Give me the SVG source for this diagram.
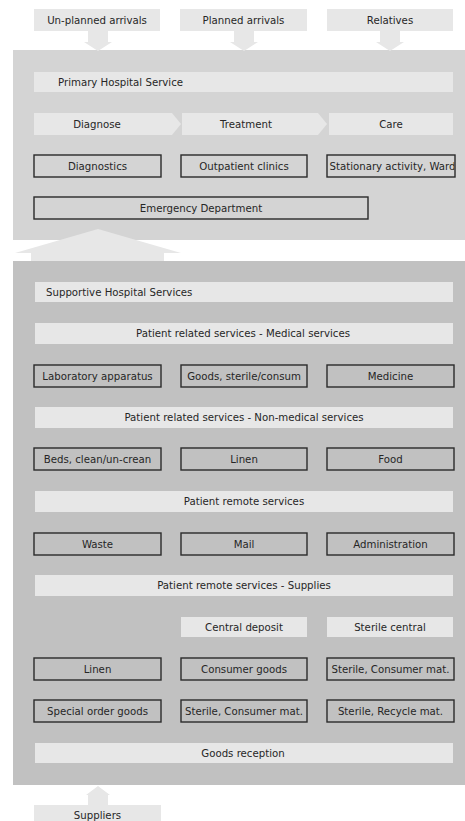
<svg xmlns="http://www.w3.org/2000/svg" width="465" height="821" viewBox="0 0 465 821">
<style>
text{font-family:"DejaVu Sans","Verdana",sans-serif;font-size:10.2px;fill:#262626;text-anchor:middle}
.l{text-anchor:start}
.bar{fill:#e7e7e7}
.arr{fill:#e7e7e7}
.c1{fill:#d4d4d4}
.c2{fill:#c1c1c1}
.b1{fill:#d4d4d4;stroke:#2a2a2a;stroke-width:1.4}
.b2{fill:#c1c1c1;stroke:#2a2a2a;stroke-width:1.4}
</style>
<defs>
<clipPath id="clipWard"><rect x="327.7" y="155" width="126.6" height="22"/></clipPath>
</defs>
<rect width="465" height="821" fill="#ffffff"/>

<!-- containers -->
<g id="primary-container"><rect class="c1" x="13" y="50" width="452" height="190"/></g>
<g id="supportive-container"><rect class="c2" x="13" y="261" width="452" height="524"/></g>

<!-- connectors -->
<g id="connectors">
<polygon class="arr" points="88,31 108,31 108,42 112,42 98,51 84,42 88,42"/>
<polygon class="arr" points="234,31 254,31 254,42 258,42 244,51 230,42 234,42"/>
<polygon class="arr" points="380,31 400,31 400,42 404,42 390,51 376,42 380,42"/>
<polygon class="arr" points="31,261 31,253 15,253 98,229 181,253 164,253 164,261"/>
<polygon class="arr" points="88,805 88,795 86,795 98,786 110,795 108,795 108,805"/>
</g>

<!-- top inputs -->
<g id="unplanned"><rect class="bar" x="34" y="9" width="126" height="22"/><text x="97" y="23.5">Un-planned arrivals</text></g>
<g id="planned"><rect class="bar" x="180" y="9" width="127" height="22"/><text x="243.5" y="23.5">Planned arrivals</text></g>
<g id="relatives"><rect class="bar" x="327" y="9" width="126" height="22"/><text x="390" y="23.5">Relatives</text></g>

<!-- primary -->
<g id="primary-title"><rect class="bar" x="34" y="72" width="419" height="20"/><text class="l" x="58" y="85.5">Primary Hospital Service</text></g>
<g id="diagnose"><polygon class="bar" points="34,113 172,113 181,124 172,135 34,135"/><text x="97" y="127.5">Diagnose</text></g>
<g id="treatment"><polygon class="bar" points="182,113 318,113 327,124 318,135 182,135 182,124"/><text x="246" y="127.5">Treatment</text></g>
<g id="care"><rect class="bar" x="329" y="113" width="124" height="22"/><text x="391" y="127.5">Care</text></g>
<g id="diagnostics"><rect class="b1" x="34" y="155" width="127" height="22"/><text x="97.5" y="169.5">Diagnostics</text></g>
<g id="outpatient"><rect class="b1" x="181" y="155" width="126" height="22"/><text x="244" y="169.5">Outpatient clinics</text></g>
<g id="ward"><rect class="b1" x="327" y="155" width="128" height="22"/><text x="392.5" y="169.5" clip-path="url(#clipWard)">Stationary activity, Ward</text></g>
<g id="emergency"><rect class="b1" x="34" y="197" width="334" height="22"/><text x="201" y="211.5">Emergency Department</text></g>

<!-- supportive -->
<g id="supportive-title"><rect class="bar" x="35" y="282" width="418" height="20"/><text class="l" x="46" y="295.5">Supportive Hospital Services</text></g>
<g id="medical"><rect class="bar" x="35" y="323" width="418" height="21"/><text x="243" y="337">Patient related services - Medical services</text></g>
<g id="lab"><rect class="b2" x="34" y="365" width="127" height="22"/><text x="97.5" y="379.5">Laboratory apparatus</text></g>
<g id="goods-sterile"><rect class="b2" x="181" y="365" width="126" height="22"/><text x="244" y="379.5">Goods, sterile/consum</text></g>
<g id="medicine"><rect class="b2" x="327" y="365" width="127" height="22"/><text x="390.5" y="379.5">Medicine</text></g>
<g id="nonmedical"><rect class="bar" x="35" y="407" width="418" height="21"/><text x="244" y="421">Patient related services - Non-medical services</text></g>
<g id="beds"><rect class="b2" x="34" y="448" width="127" height="22"/><text x="97.5" y="462.5">Beds, clean/un-crean</text></g>
<g id="linen1"><rect class="b2" x="181" y="448" width="126" height="22"/><text x="244" y="462.5">Linen</text></g>
<g id="food"><rect class="b2" x="327" y="448" width="127" height="22"/><text x="390.5" y="462.5">Food</text></g>
<g id="remote"><rect class="bar" x="35" y="491" width="418" height="21"/><text x="244" y="505">Patient remote services</text></g>
<g id="waste"><rect class="b2" x="34" y="533" width="127" height="22"/><text x="97.5" y="547.5">Waste</text></g>
<g id="mail"><rect class="b2" x="181" y="533" width="126" height="22"/><text x="244" y="547.5">Mail</text></g>
<g id="admin"><rect class="b2" x="327" y="533" width="127" height="22"/><text x="390.5" y="547.5">Administration</text></g>
<g id="supplies"><rect class="bar" x="35" y="575" width="418" height="21"/><text x="244" y="589">Patient remote services - Supplies</text></g>
<g id="central-deposit"><rect class="bar" x="181" y="617" width="126" height="20"/><text x="244" y="630.5">Central deposit</text></g>
<g id="sterile-central"><rect class="bar" x="327" y="617" width="126" height="20"/><text x="390" y="630.5">Sterile central</text></g>
<g id="linen2"><rect class="b2" x="34" y="658" width="127" height="22"/><text x="97.5" y="672.5">Linen</text></g>
<g id="consumer-goods"><rect class="b2" x="181" y="658" width="126" height="22"/><text x="244" y="672.5">Consumer goods</text></g>
<g id="sterile-consumer1"><rect class="b2" x="327" y="658" width="127" height="22"/><text x="390.5" y="672.5">Sterile, Consumer mat.</text></g>
<g id="special-order"><rect class="b2" x="34" y="700" width="127" height="22"/><text x="97.5" y="714.5">Special order goods</text></g>
<g id="sterile-consumer2"><rect class="b2" x="181" y="700" width="126" height="22"/><text x="244" y="714.5">Sterile, Consumer mat.</text></g>
<g id="sterile-recycle"><rect class="b2" x="327" y="700" width="127" height="22"/><text x="390.5" y="714.5">Sterile, Recycle mat.</text></g>
<g id="goods-reception"><rect class="bar" x="35" y="743" width="418" height="20"/><text x="243" y="756.5">Goods reception</text></g>

<g id="suppliers"><rect class="bar" x="34" y="805" width="127" height="16"/><text x="97.5" y="818.5">Suppliers</text></g>
</svg>
